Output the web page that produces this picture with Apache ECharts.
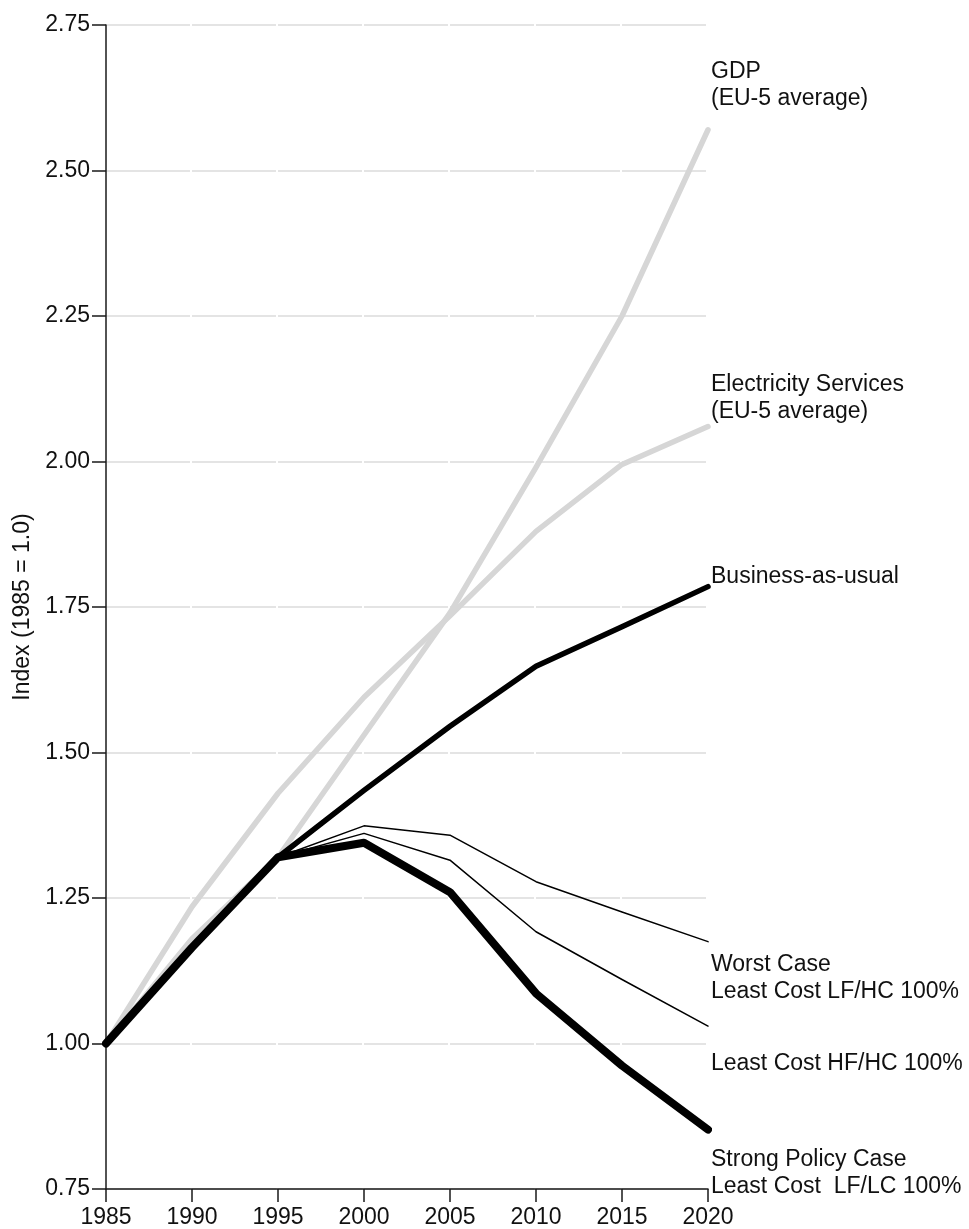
<!DOCTYPE html>
<html>
<head>
<meta charset="utf-8">
<title>Electricity index scenarios, EU-5</title>
<script src="https://cdn.jsdelivr.net/npm/echarts@6/dist/echarts.min.js"></script>
<style>
  html, body { margin: 0; padding: 0; background: #fff; }
  #chart { width: 969px; height: 1229px; }
</style>
</head>
<body>
<div id="chart"></div>
<script>
// Years on the horizontal axis
const years = [1985, 1990, 1995, 2000, 2005, 2010, 2015, 2020];

// Index values (1985 = 1.0)
const gdp            = [1.00, 1.18, 1.32, 1.53, 1.74, 1.99, 2.25, 2.57];
const electricity    = [1.00, 1.235, 1.43, 1.595, 1.735, 1.88, 1.995, 2.06];
const businessAsUsual = [1.00, 1.165, 1.32, 1.435, 1.545, 1.648, 1.716, 1.785];
const worstCase      = [1.00, 1.165, 1.32, 1.374, 1.358, 1.278, 1.226, 1.175];
const leastCostHFHC  = [1.00, 1.165, 1.32, 1.361, 1.315, 1.192, 1.11, 1.03];
const strongPolicy   = [1.00, 1.165, 1.32, 1.345, 1.26, 1.086, 0.962, 0.852];

// Axis ticks
const yTicks = { min: 0.75, max: 2.75, step: 0.25 };
const xTicks = { min: 1985, max: 2020, step: 5 };

const FONT = "'Liberation Sans', Arial, sans-serif";
const pair = vals => years.map((y, i) => [y, vals[i]]);

function line(name, vals, color, width, z) {
  return {
    name, type: 'line', data: pair(vals), z,
    showSymbol: false, symbol: 'none', silent: true,
    lineStyle: { color, width, cap: 'round', join: 'round' }
  };
}

const chart = echarts.init(document.getElementById('chart'), null, { renderer: 'canvas' });

chart.setOption({
  animation: false,
  backgroundColor: '#ffffff',
  grid: { left: 106, right: 261, top: 25, bottom: 40, containLabel: false },
  xAxis: {
    type: 'value',
    min: xTicks.min, max: xTicks.max, interval: xTicks.step,
    axisLine: { show: true, onZero: false, lineStyle: { color: '#1a1a1a', width: 1.5 } },
    axisTick: { show: true, length: 13, lineStyle: { color: '#1a1a1a', width: 1.5 } },
    axisLabel: { color: '#111', fontFamily: FONT, fontSize: 23, margin: 17, formatter: v => String(v) },
    splitLine: { show: false }
  },
  yAxis: {
    type: 'value',
    min: yTicks.min, max: yTicks.max, interval: yTicks.step,
    name: 'Index (1985 = 1.0)',
    nameLocation: 'middle',
    nameGap: 70,
    nameTextStyle: { color: '#111', fontFamily: FONT, fontSize: 23 },
    axisLine: { show: true, onZero: false, lineStyle: { color: '#1a1a1a', width: 1.5 } },
    axisTick: { show: true, length: 14, lineStyle: { color: '#1a1a1a', width: 1.5 } },
    axisLabel: { color: '#111', fontFamily: FONT, fontSize: 23, margin: 16, formatter: v => v.toFixed(2) },
    splitLine: { show: true, lineStyle: { color: '#dcdcdc', width: 1.5, type: [84, 2] } }
  },
  series: [
    line('GDP (EU-5 average)', gdp, '#d6d6d6', 5.5, 2),
    line('Electricity Services (EU-5 average)', electricity, '#d6d6d6', 5.5, 2),
    line('Business-as-usual', businessAsUsual, '#000000', 5.5, 3),
    line('Worst Case / Least Cost LF/HC 100%', worstCase, '#000000', 1.5, 4),
    line('Least Cost HF/HC 100%', leastCostHFHC, '#000000', 1.5, 4),
    line('Strong Policy Case / Least Cost LF/LC 100%', strongPolicy, '#000000', 8, 5)
  ],
  graphic: [
    ['GDP\n(EU-5 average)', 85],
    ['Electricity Services\n(EU-5 average)', 398],
    ['Business-as-usual', 577],
    ['Worst Case\nLeast Cost LF/HC 100%', 978],
    ['Least Cost HF/HC 100%', 1064],
    ['Strong Policy Case\nLeast Cost  LF/LC 100%', 1173]
  ].map(([text, y]) => ({
    type: 'text', x: 711, y, z: 10, silent: true,
    style: {
      text, fill: '#111', fontFamily: FONT, fontSize: 23, lineHeight: 27,
      align: 'left', verticalAlign: 'middle'
    }
  }))
});
</script>
</body>
</html>
